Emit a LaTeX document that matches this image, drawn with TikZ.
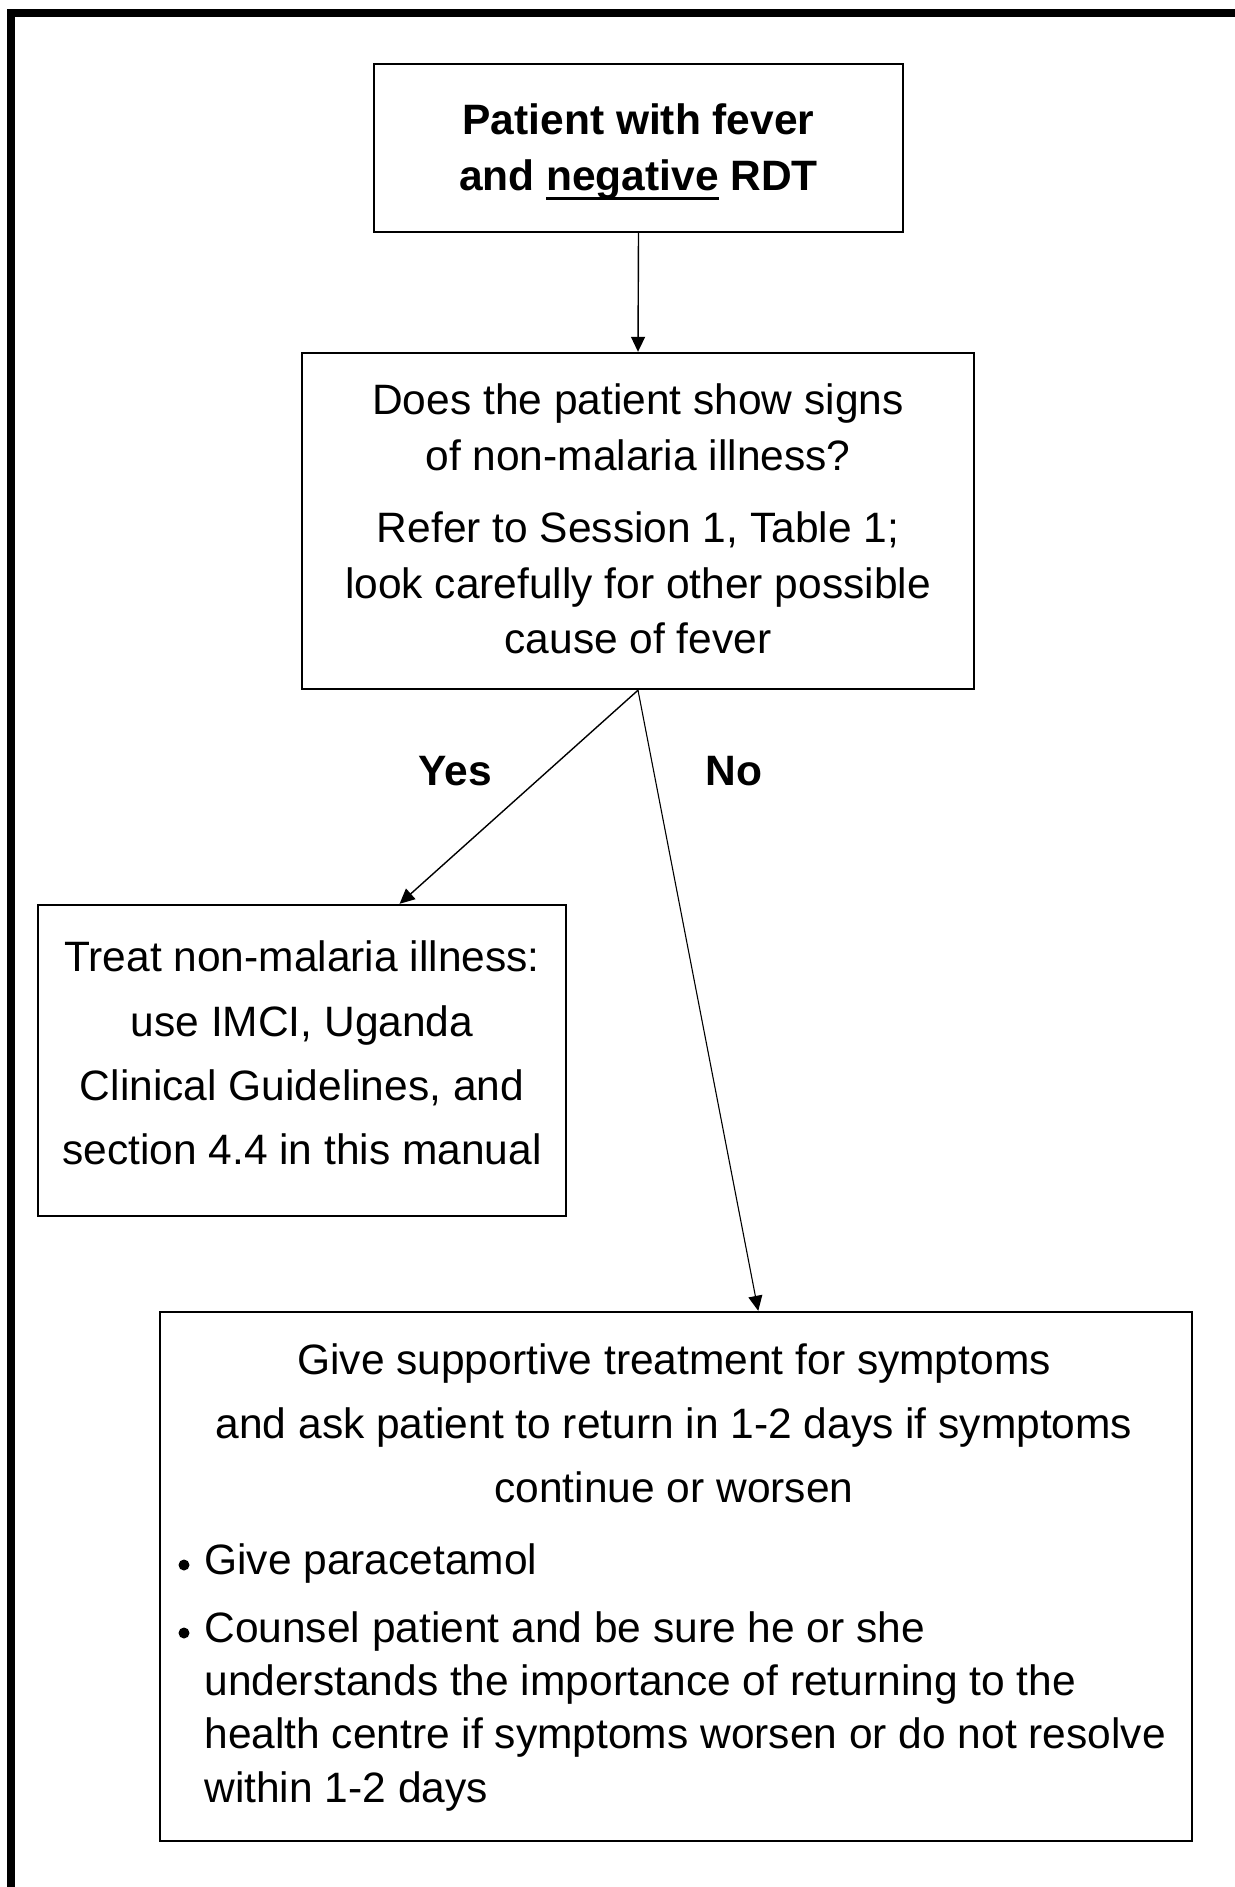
\documentclass[tikz,border=0pt]{standalone}
\usepackage{fontspec}
\setmainfont{Liberation Sans}
\usetikzlibrary{arrows.meta,calc}

% thick underline that sits just below the descenders
\newsavebox\ulbox
\newcommand\ulword[1]{\sbox\ulbox{#1}\rlap{\vrule height -3.5pt depth 5pt width \wd\ulbox}\usebox\ulbox}

\begin{document}
\begin{tikzpicture}[x=0.5pt,y=-0.5pt,
  box/.style={draw, line width=1.2pt, inner sep=0pt, rectangle},
  txt/.style={anchor=base, inner sep=0pt, font=\fontsize{21.25pt}{25pt}\selectfont},
  btxt/.style={anchor=base, inner sep=0pt, font=\fontsize{21.25pt}{25pt}\selectfont\bfseries},
  ltxt/.style={anchor=base west, inner sep=0pt, font=\fontsize{21.25pt}{25pt}\selectfont},
  arr/.style={-{Triangle[length=7.5pt,width=7pt]}, line width=0.7pt},
  bulletdot/.style={circle, fill=black, draw=none, inner sep=0pt, minimum size=5.5pt}]

\useasboundingbox (0,0) rectangle (1235,1887);
\clip (0,0) rectangle (1235,1887);

% page frame (left and top edges)
\draw[line width=3.75pt] (10.8,1950) -- (10.8,12.8) -- (1300,12.8);

% boxes
\node[box, minimum width=264.5pt, minimum height=84pt]   (b1) at (638.5,148)   {};
\node[box, minimum width=336pt,   minimum height=168pt]  (b2) at (638,521)     {};
\node[box, minimum width=264pt,   minimum height=155.5pt](b3) at (302,1060.5)  {};
\node[box, minimum width=516pt,   minimum height=264.5pt](b4) at (676,1576.5)  {};

% start box
\node[btxt] (t11) at (638.5,134) {Patient with fever};
\node[btxt] (t12) at (638.5,190) {and \ulword{negative} RDT};

% question box
\node[txt] (t21) at (638,414) {Does the patient show signs};
\node[txt] (t22) at (638,470) {of non-malaria illness?};
\node[txt] (t23) at (638,542) {Refer to Session 1, Table 1;};
\node[txt] (t24) at (638,598) {look carefully for other possible};
\node[txt] (t25) at (638,653) {cause of fever};

% yes branch
\node[txt] (t31) at (302,971)  {Treat non-malaria illness:};
\node[txt] (t32) at (302,1036) {use IMCI, Uganda};
\node[txt] (t33) at (302,1100) {Clinical Guidelines, and};
\node[txt] (t34) at (302,1164) {section 4.4 in this manual};

% no branch
\node[txt] (t41) at (674,1374) {Give supportive treatment for symptoms};
\node[txt] (t42) at (674,1438) {and ask patient to return in 1-2 days if symptoms};
\node[txt] (t43) at (674,1502) {continue or worsen};
\node[bulletdot] (d1) at (184,1565) {};
\node[ltxt] (t44) at (204,1574) {Give paracetamol};
\node[bulletdot] (d2) at (184,1633) {};
\node[ltxt] (t45) at (204,1642) {Counsel patient and be sure he or she};
\node[ltxt] (t46) at (204,1695) {understands the importance of returning to the};
\node[ltxt] (t47) at (204,1748) {health centre if symptoms worsen or do not resolve};
\node[ltxt] (t48) at (204,1802) {within 1-2 days};

% branch labels
\node[btxt] (yes) at (455,785) {Yes};
\node[btxt] (no)  at (734,785) {No};

% connectors
\draw[arr] (b1.south) -- (b2.north);
\draw[arr] (b2.south) -- ($(b3.north west)!0.684!(b3.north east)$);
\draw[arr, line width=0.55pt] (b2.south) -- ($(b4.north west)!0.5795!(b4.north east)$);
\end{tikzpicture}
\end{document}
